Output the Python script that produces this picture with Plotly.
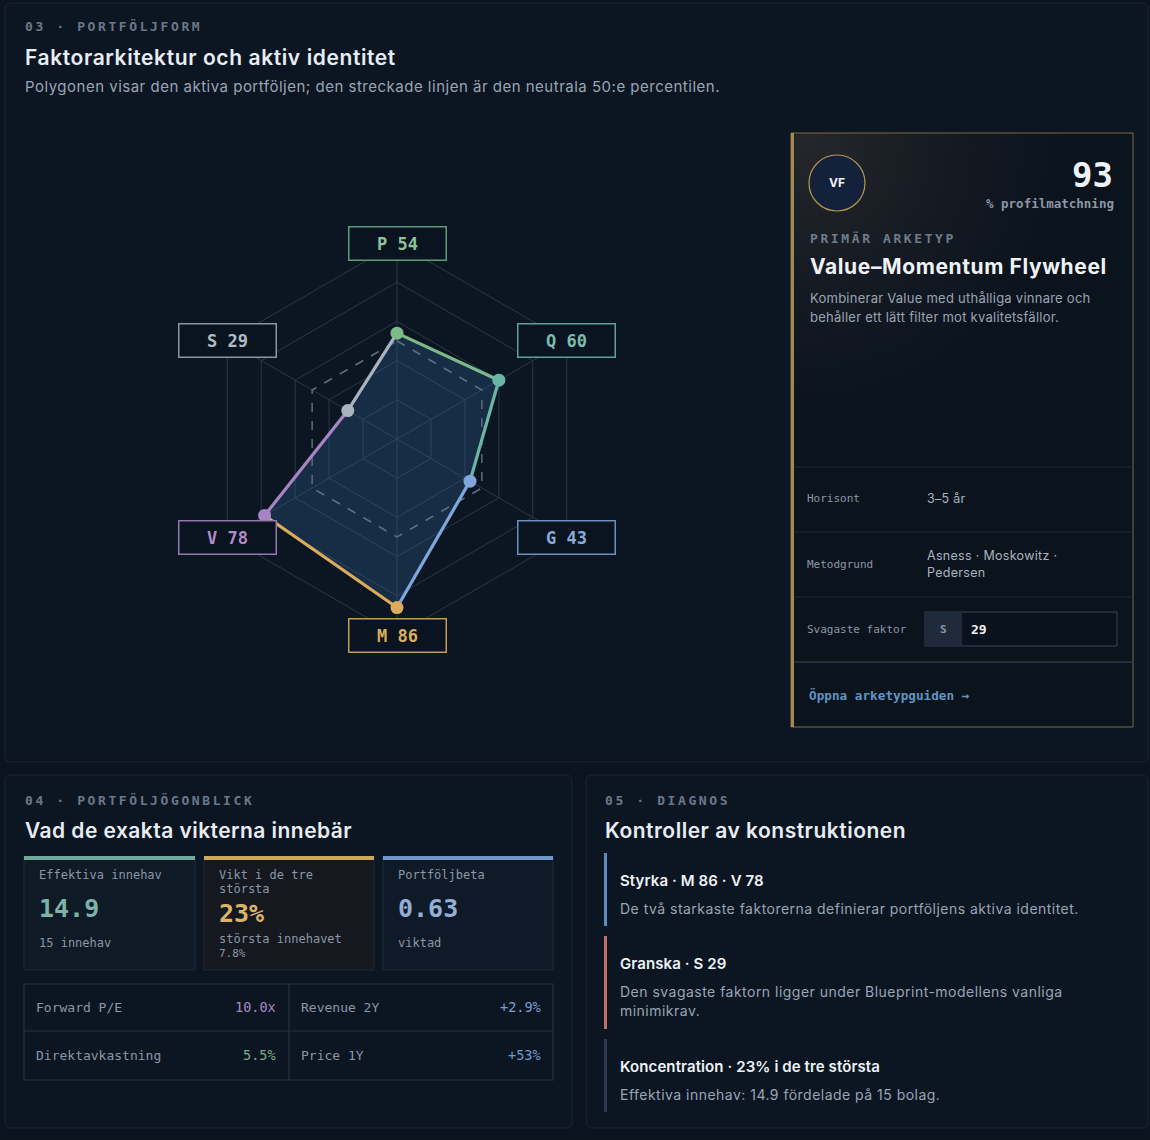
import base64
import math
import plotly.graph_objects as go

W, H = 1150, 1140
SANS = "Inter, 'Noto Sans', sans-serif"
MONO = "'DejaVu Sans Mono', 'Liberation Mono', monospace"
PAGE_BG = "#0a131e"
PANEL_BG = "#0c1623"
PANEL_LINE = "#1b2633"

# ---------------- data ----------------
factors = ["P", "Q", "G", "M", "V", "S"]
factor_scores = [54, 60, 43, 86, 78, 29]
neutral_level = 50
grid_levels = [20, 40, 60, 80, 100]
factor_line_colors = ["#7dba8a", "#6cb5a5", "#7fa7dc", "#dcab5c", "#a884c4", "#a9b4bf"]
factor_box_borders = ["#5e9c74", "#5fa197", "#6c8fbd", "#c69a4e", "#9478ac", "#8995a3"]
factor_text_colors = ["#8cc29a", "#7bbdb0", "#88acd9", "#dcae5f", "#b08cc7", "#b0bbc6"]

match_score = "93"
archetype_name = "Value–Momentum Flywheel"
archetype_desc = ["Kombinerar Value med uthålliga vinnare och",
                  "behåller ett lätt filter mot kvalitetsfällor."]
detail_labels = ["Horisont", "Metodgrund", "Svagaste faktor"]
horizon_value = "3–5 år"
method_value = ["Asness · Moskowitz ·", "Pedersen"]

card_titles = [["Effektiva innehav"], ["Vikt i de tre", "största"], ["Portföljbeta"]]
card_values = ["14.9", "23%", "0.63"]
card_subs = [["15 innehav"], ["största innehavet", "7.8%"], ["viktad"]]
card_colors = ["#6fa89d", "#cfa75c", "#7098cc"]
card_value_colors = ["#7db3a7", "#dcb36a", "#93afd8"]
card_fills = ["#0f1a27", "#15191f", "#0f1a28"]

table_labels = [["Forward P/E", "Revenue 2Y"], ["Direktavkastning", "Price 1Y"]]
table_values = [["10.0x", "+2.9%"], ["5.5%", "+53%"]]
table_colors = [["#a987c0", "#7b9fcf"], ["#79ac85", "#6f9ac9"]]

diag_titles = ["Styrka · M 86 · V 78", "Granska · S 29", "Koncentration · 23% i de tre största"]
diag_texts = [["De två starkaste faktorerna definierar portföljens aktiva identitet."],
              ["Den svagaste faktorn ligger under Blueprint-modellens vanliga", "minimikrav."],
              ["Effektiva innehav: 14.9 fördelade på 15 bolag."]]
diag_colors = ["#5b8cbd", "#c46f66", "#2b3a4e"]


# ---------------- helpers ----------------
def X(x):
    return x / W


def Y(y):
    return 1 - y / H


shapes, annotations = [], []


def rrect(x0, y0, x1, y1, r, fill, line, lw=1, layer="below"):
    p = (f"M {X(x0 + r)},{Y(y0)} L {X(x1 - r)},{Y(y0)} Q {X(x1)},{Y(y0)} {X(x1)},{Y(y0 + r)} "
         f"L {X(x1)},{Y(y1 - r)} Q {X(x1)},{Y(y1)} {X(x1 - r)},{Y(y1)} "
         f"L {X(x0 + r)},{Y(y1)} Q {X(x0)},{Y(y1)} {X(x0)},{Y(y1 - r)} "
         f"L {X(x0)},{Y(y0 + r)} Q {X(x0)},{Y(y0)} {X(x0 + r)},{Y(y0)} Z")
    shapes.append(dict(type="path", path=p, xref="paper", yref="paper", fillcolor=fill,
                       line=dict(color=line, width=lw), layer=layer))


def rect(x0, y0, x1, y1, fill, line=None, lw=0, layer="below"):
    shapes.append(dict(type="rect", xref="paper", yref="paper", x0=X(x0), x1=X(x1), y0=Y(y1), y1=Y(y0),
                       fillcolor=fill, line=dict(color=line or fill, width=lw), layer=layer))


def hline(x0, x1, y, color, lw=1, layer="below"):
    shapes.append(dict(type="line", xref="paper", yref="paper", x0=X(x0), x1=X(x1), y0=Y(y), y1=Y(y),
                       line=dict(color=color, width=lw), layer=layer))


def vline(x, y0, y1, color, lw=1, layer="below"):
    shapes.append(dict(type="line", xref="paper", yref="paper", x0=X(x), x1=X(x), y0=Y(y0), y1=Y(y1),
                       line=dict(color=color, width=lw), layer=layer))


def T(x, y, text, size, color, family=SANS, weight=400, anchor="left", spacing=None):
    if spacing:
        text = f'<span style="letter-spacing:{spacing}px">{text}</span>'
    annotations.append(dict(x=X(x), y=Y(y), xref="paper", yref="paper", text=text, showarrow=False,
                            xanchor=anchor, yanchor="middle", borderpad=0,
                            font=dict(family=family, size=size, color=color, weight=weight)))


# ---------------- panels ----------------
rrect(5, 3, 1148, 762, 6, PANEL_BG, PANEL_LINE)
rrect(5, 775, 572, 1128, 6, PANEL_BG, PANEL_LINE)
rrect(586, 775, 1148, 1128, 6, PANEL_BG, PANEL_LINE)

# Section 03 header
T(24, 27, "03 · PORTFÖLJFORM", 13, "#6b7889", MONO, 700, spacing=2.6)
T(24, 57, "Faktorarkitektur och aktiv identitet", 21, "#e8edf3", SANS, 600, spacing=0.6)
T(24, 86, "Polygonen visar den aktiva portföljen; den streckade linjen är den neutrala 50:e percentilen.",
  15, "#9aa5b3", SANS, spacing=0.5)

# ---------------- radar ----------------
CX, CY, R = 397, 439, 196
fig = go.Figure()
closed_f = factors + [factors[0]]
closed_s = factor_scores + [factor_scores[0]]

fig.add_trace(go.Scatterpolar(r=closed_s, theta=closed_f, mode="lines", fill="toself",
                              fillcolor="rgba(50,98,150,0.30)", line=dict(width=0, color="rgba(0,0,0,0)"),
                              hoverinfo="skip", showlegend=False))
fig.add_trace(go.Scatterpolar(r=[neutral_level] * len(closed_f), theta=closed_f, mode="lines",
                              line=dict(color="#5f6d7e", width=1.5, dash="dash"),
                              hoverinfo="skip", showlegend=False))
n = len(factors)
for i in range(n):
    j = (i + 1) % n
    fig.add_trace(go.Scatterpolar(r=[factor_scores[i], factor_scores[j]], theta=[factors[i], factors[j]],
                                  mode="lines", line=dict(color=factor_line_colors[i], width=3.2),
                                  hoverinfo="skip", showlegend=False))
fig.add_trace(go.Scatterpolar(r=factor_scores, theta=factors, mode="markers",
                              marker=dict(color=factor_line_colors, size=13),
                              showlegend=False))

GRID = "#2a3748"
fig.update_layout(polar=dict(
    domain=dict(x=[X(CX - R), X(CX + R)], y=[Y(CY + R), Y(CY - R)]),
    bgcolor="rgba(0,0,0,0)",
    gridshape="linear",
    radialaxis=dict(range=[0, 100], tickvals=grid_levels, showticklabels=False, ticks="",
                    showline=False, gridcolor=GRID, gridwidth=1),
    angularaxis=dict(type="category", categoryarray=factors, rotation=90, direction="clockwise",
                     showticklabels=False, ticks="", gridcolor=GRID, linecolor=GRID, linewidth=1),
))

for i, f in enumerate(factors):
    ang = math.radians(90 - 60 * i)
    bx = CX + R * math.cos(ang)
    by = CY - R * math.sin(ang)
    annotations.append(dict(x=X(bx), y=Y(by), xref="paper", yref="paper", text=f"{f} {factor_scores[i]}",
                            showarrow=False, xanchor="center", yanchor="middle", width=96, height=32,
                            borderpad=0, borderwidth=1.5, bordercolor=factor_box_borders[i],
                            bgcolor="#0a1420",
                            font=dict(family=MONO, size=17, color=factor_text_colors[i], weight=700)))

# ---------------- archetype card ----------------
CARD = (791, 133, 1133, 727)
svg = ('<svg xmlns="http://www.w3.org/2000/svg" width="340" height="592" viewBox="0 0 340 592" '
       'preserveAspectRatio="none"><defs><radialGradient id="g" cx="0.05" cy="0.02" r="0.75" '
       'gradientUnits="objectBoundingBox" gradientTransform="translate(0.05,0.02) scale(1,0.6) translate(-0.05,-0.02)">'
       '<stop offset="0" stop-color="#24262a"/><stop offset="0.55" stop-color="#141a22"/>'
       '<stop offset="1" stop-color="#0b131d"/></radialGradient></defs>'
       '<rect width="340" height="592" fill="#0b131d"/>'
       '<rect width="340" height="592" fill="url(#g)"/></svg>')
src = "data:image/svg+xml;base64," + base64.b64encode(svg.encode()).decode()
images = [dict(source=src, xref="paper", yref="paper", x=X(CARD[0] + 2), y=Y(CARD[1]),
               sizex=(CARD[2] - CARD[0] - 2) / W, sizey=(CARD[3] - CARD[1]) / H,
               xanchor="left", yanchor="top", sizing="stretch", layer="above")]

rect(CARD[0], CARD[1], CARD[2], CARD[3], "rgba(0,0,0,0)", "#7d6a45", 1, layer="above")
rect(CARD[0], CARD[1], CARD[0] + 3, CARD[3], "#a4884f", layer="above")
for yy in [467, 532, 597]:
    hline(794, CARD[2], yy, "#1f2b3a", 1, layer="above")
hline(794, CARD[2], 662, "#2a394b", 1.5, layer="above")

shapes.append(dict(type="circle", xref="paper", yref="paper", x0=X(809), x1=X(865), y0=Y(211), y1=Y(155),
                   fillcolor="#13223a", line=dict(color="#b8964f", width=1.2), layer="above"))
T(837, 183, "VF", 12, "#eef2f6", SANS, 700, anchor="center")
T(1114, 175, match_score, 34, "#eef2f6", MONO, 700, anchor="right")
T(1115, 203, "% profilmatchning", 12.5, "#8b97a5", MONO, 700, anchor="right")
T(809, 239, "PRIMÄR ARKETYP", 13, "#6f7c8b", MONO, 700, spacing=2.6)
T(809, 267, archetype_name, 21, "#eef2f6", SANS, 700, spacing=0.6)
for k, line in enumerate(archetype_desc):
    T(809, 298 + 19 * k, line, 13, "#9aa5b3", SANS, spacing=0.25)

T(806, 498, detail_labels[0], 11, "#8b97a5", MONO)
T(926, 498, horizon_value, 12.5, "#a9b3bf", SANS, spacing=0.3)
T(806, 564, detail_labels[1], 11, "#8b97a5", MONO)
T(926, 555, method_value[0], 12.5, "#a9b3bf", SANS, spacing=0.3)
T(926, 572, method_value[1], 12.5, "#a9b3bf", SANS, spacing=0.3)
T(806, 629, detail_labels[2], 11, "#8b97a5", MONO)
weak_idx = factor_scores.index(min(factor_scores))
rect(925, 612, 1117, 646, "#0a131d", "#3a4656", 1, layer="above")
rect(925.5, 612.5, 962, 645.5, "#1f2b3a", layer="above")
T(943.5, 629, factors[weak_idx], 11, "#8b97a5", MONO, 700, anchor="center")
T(970, 629, str(factor_scores[weak_idx]), 13, "#eef2f6", MONO, 700)
T(808, 695, "Öppna arketypguiden →", 12.7, "#5f95c4", MONO, 700)

# ---------------- section 04 ----------------
T(24, 800, "04 · PORTFÖLJÖGONBLICK", 13, "#6b7889", MONO, 700, spacing=2.6)
T(24, 830, "Vad de exakta vikterna innebär", 21, "#e8edf3", SANS, 600, spacing=0.45)
card_x = [(24, 195), (204, 374), (383, 553)]
for c, (x0, x1) in enumerate(card_x):
    rect(x0, 857, x1, 970, card_fills[c], "#1f2b3a", 1)
    rect(x0, 856, x1, 860, card_colors[c])
    tx = x0 + 14
    for k, line in enumerate(card_titles[c]):
        T(tx, 875 + 14 * k, line, 12, "#8b97a5", MONO)
    if len(card_titles[c]) == 1:
        T(tx, 908, card_values[c], 25, card_value_colors[c], MONO, 700)
        T(tx, 943, card_subs[c][0], 12, "#8b97a5", MONO)
    else:
        T(tx, 913, card_values[c], 25, card_value_colors[c], MONO, 700)
        T(tx, 939, card_subs[c][0], 12, "#8b97a5", MONO)
        T(tx, 953, card_subs[c][1], 11, "#8b97a5", MONO)

rect(24, 984, 553, 1080, "#0c1623", "#243244", 1.2)
vline(289, 984, 1080, "#243244", 1.2)
hline(24, 553, 1031, "#243244", 1.2)
row_y = [1007, 1055]
col_x = [(35, 277), (300, 542)]
for r_i in range(2):
    for c_i in range(2):
        T(col_x[c_i][0], row_y[r_i], table_labels[r_i][c_i], 13, "#8b97a5", MONO)
        T(col_x[c_i][1], row_y[r_i], table_values[r_i][c_i], 13.5, table_colors[r_i][c_i], MONO, 400,
          anchor="right")

# ---------------- section 05 ----------------
T(604, 800, "05 · DIAGNOS", 13, "#6b7889", MONO, 700, spacing=2.6)
T(604, 830, "Kontroller av konstruktionen", 21, "#e8edf3", SANS, 600, spacing=0.5)
diag_bars = [(853, 926), (936, 1029), (1039, 1112)]
for d in range(3):
    y0, y1 = diag_bars[d]
    rect(604, y0, 607, y1, diag_colors[d])
    T(619, y0 + 27, diag_titles[d], 15, "#eef2f6", SANS, 600, spacing=0.1)
    for k, line in enumerate(diag_texts[d]):
        T(619, y0 + 55 + 19 * k, line, 14, "#9aa5b3", SANS, spacing=0.48)

fig.update_layout(width=W, height=H, margin=dict(l=0, r=0, t=0, b=0),
                  paper_bgcolor=PAGE_BG, plot_bgcolor=PAGE_BG,
                  shapes=shapes, annotations=annotations, images=images, showlegend=False)

fig.write_html("out.html", config={"displayModeBar": False},
               post_script="document.body.style.margin='0px';document.body.style.background='#0a131e';"
                           "document.documentElement.style.overflow='hidden';")
